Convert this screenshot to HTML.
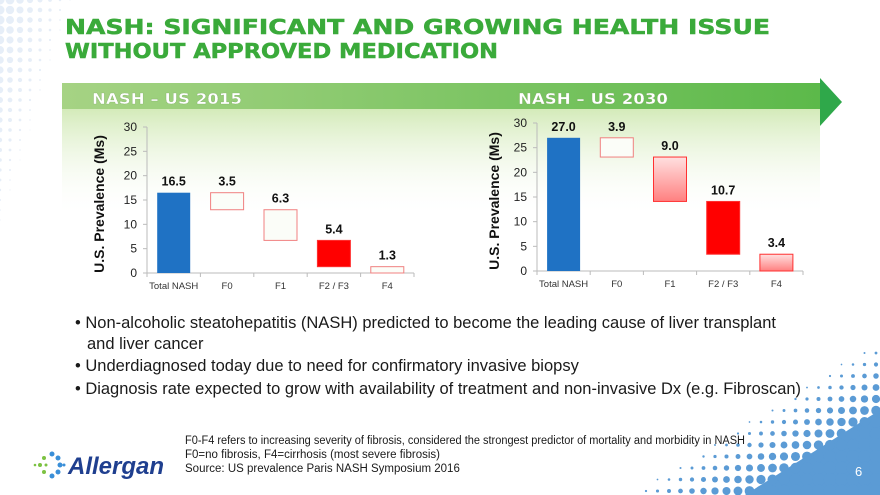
<!DOCTYPE html>
<html><head><meta charset="utf-8"><style>
html,body{margin:0;padding:0;background:#fff;}
svg{display:block;font-family:"Liberation Sans",Arial,sans-serif;}
</style></head><body>
<svg id="s" width="880" height="495" viewBox="0 0 880 495" xmlns="http://www.w3.org/2000/svg">
<defs>
<linearGradient id="band" x1="0" x2="1" y1="0" y2="0"><stop offset="0" stop-color="#a6d384"/><stop offset="1" stop-color="#5cb94a"/></linearGradient>
<linearGradient id="area" x1="0" x2="0" y1="0" y2="1"><stop offset="0" stop-color="#d3eab8"/><stop offset="1" stop-color="#ffffff" stop-opacity="0"/></linearGradient>
<linearGradient id="pink" x1="0" x2="0" y1="0" y2="1"><stop offset="0" stop-color="#ffe0e0"/><stop offset="1" stop-color="#ff8080"/></linearGradient>
</defs>
<g id="deco"></g>
<rect x="62" y="108" width="758" height="110" fill="url(#area)"/>
<rect x="62" y="83" width="758" height="26" fill="url(#band)"/>
<polygon points="820,78 842,102 820,126" fill="#2fa84a"/>
<text x="65" y="34" font-family="DejaVu Sans,sans-serif" font-weight="bold" font-size="20" fill="#3aaa3a" stroke="#3aaa3a" stroke-width="0.5" textLength="705" lengthAdjust="spacingAndGlyphs">NASH: SIGNIFICANT AND GROWING HEALTH ISSUE</text>
<text x="65" y="58" font-family="DejaVu Sans,sans-serif" font-weight="bold" font-size="20" fill="#3aaa3a" stroke="#3aaa3a" stroke-width="0.5" textLength="433" lengthAdjust="spacingAndGlyphs">WITHOUT APPROVED MEDICATION</text>
<text x="92" y="104" font-family="DejaVu Sans,sans-serif" font-weight="bold" font-size="15.5" fill="#fff" stroke="#7aa860" stroke-width="0.3" textLength="150" lengthAdjust="spacingAndGlyphs">NASH – US 2015</text>
<text x="518" y="104" font-family="DejaVu Sans,sans-serif" font-weight="bold" font-size="15.5" fill="#fff" stroke="#7aa860" stroke-width="0.3" textLength="150" lengthAdjust="spacingAndGlyphs">NASH – US 2030</text>
<g id="c1"></g>
<g id="c2"></g>
<g font-size="16.5" fill="#1a1a1a">
<text x="75" y="328">• Non-alcoholic steatohepatitis (NASH) predicted to become the leading cause of liver transplant</text>
<text x="87" y="349">and liver cancer</text>
<text x="75" y="371">• Underdiagnosed today due to need for confirmatory invasive biopsy</text>
<text x="75" y="394" textLength="726" lengthAdjust="spacingAndGlyphs">• Diagnosis rate expected to grow with availability of treatment and non-invasive Dx (e.g. Fibroscan)</text>
</g>
<g font-size="11.5" fill="#1a1a1a">
<text x="185" y="444" textLength="560" lengthAdjust="spacingAndGlyphs">F0-F4 refers to increasing severity of fibrosis, considered the strongest predictor of mortality and morbidity in NASH</text>
<text x="185" y="458">F0=no fibrosis, F4=cirrhosis (most severe fibrosis)</text>
<text x="185" y="472">Source: US prevalence Paris NASH Symposium 2016</text>
</g>
<g>
<g fill="#3a8fd8"><circle cx="52" cy="454" r="2.5"/><circle cx="58" cy="458" r="2.5"/><circle cx="60" cy="465" r="2.5"/><circle cx="58" cy="472" r="2.5"/><circle cx="52" cy="476" r="2.5"/><circle cx="64" cy="465" r="1.5"/></g>
<g fill="#7cc242"><circle cx="44" cy="458" r="2"/><circle cx="44" cy="472" r="2"/><circle cx="40" cy="465" r="2"/><circle cx="35" cy="465" r="1.3"/><circle cx="46" cy="465" r="1.5"/></g>
<text x="68" y="474" font-size="24" font-weight="bold" font-style="italic" fill="#1f3f8f">Allergan</text>
</g>
<text x="855" y="476" font-size="13" fill="#fff">6</text>
</svg>
<script>
var NS='http://www.w3.org/2000/svg';
// decoration (not data)
(function(){
 var g=document.getElementById('deco');
 var poly=document.createElementNS(NS,'polygon');
 poly.setAttribute('points','745,495 880,410 880,495');poly.setAttribute('fill','#5b9bd5');
 
 
 g.appendChild(poly);
 for(var x=600;x<=885;x+=11.5){for(var y=330;y<=500;y+=11.5){
  var t=( (x-630)/250 + (y-340)/155 ) - 1; if(t<0) continue;
  var r=Math.min(6.5,0.8+t*9); var c=document.createElementNS(NS,'circle');
  c.setAttribute('cx',x);c.setAttribute('cy',y);c.setAttribute('r',r);c.setAttribute('fill','#5b9bd5');
  
  
  g.appendChild(c);}}
 for(var x=0;x<=80;x+=10){for(var y=0;y<=250;y+=10){
  var t=1-(x/80+y/250); if(t<0.1) continue;
  var c=document.createElementNS(NS,'circle');
  c.setAttribute('cx',x);c.setAttribute('cy',y);c.setAttribute('r',Math.min(4.5,t*5));c.setAttribute('fill','#e6eef8');
  
  
  g.appendChild(c);}}
})();

var categories=['Total NASH','F0','F1','F2 / F3','F4'];
var values2015=[16.5,3.5,6.3,5.4,1.3];
var values2030=[27.0,3.9,9.0,10.7,3.4];
var labels2015=['16.5','3.5','6.3','5.4','1.3'];
var labels2030=['27.0','3.9','9.0','10.7','3.4'];
var yTicks=[0,5,10,15,20,25,30];
var styles2015=['total','outline','outline','solid','outline'];
var styles2030=['total','outline','grad','solid','grad'];

function drawChart(id,vals,labs,sty,ax){
 var g=document.getElementById(id);
 function el(tag,attrs,txt){var e=document.createElementNS(NS,tag);for(var k in attrs)e.setAttribute(k,attrs[k]);if(txt!=null)e.textContent=txt;g.appendChild(e);return e;}
 function yS(v){return ax.y0-(v/30)*(ax.y0-ax.y30);}
 var cw=(ax.x1-ax.x0)/categories.length, bw=33;
 var a=el('line',{x1:ax.x0,y1:ax.y30,x2:ax.x0,y2:ax.y0,stroke:'#bbb'});
 
 var b=el('line',{x1:ax.x0,y1:ax.y0,x2:ax.x1,y2:ax.y0,stroke:'#bbb'});
 
 yTicks.forEach(function(t){
  var tk=el('line',{x1:ax.x0-4,x2:ax.x0,y1:yS(t),y2:yS(t),stroke:'#bbb'});
  
  var tl=el('text',{x:ax.x0-10,y:yS(t)+4,'text-anchor':'end','font-size':12,fill:'#222'},String(t));
  
 });
 for(var i=0;i<=categories.length;i++){var xt=el('line',{x1:ax.x0+i*cw,x2:ax.x0+i*cw,y1:ax.y0,y2:ax.y0+4,stroke:'#bbb'});
  }
 var yt=el('text',{transform:'translate('+ax.tx+','+((ax.y0+ax.y30)/2+4)+') rotate(-90)','text-anchor':'middle','font-size':14,'font-weight':'bold',fill:'#111'},'U.S. Prevalence (Ms)');
 
 var cum=vals[0];
 categories.forEach(function(c,i){
  var top,bot;
  if(i==0){top=vals[0];bot=0;}else{top=cum;bot=cum-vals[i];cum=bot;}
  var x=ax.x0+i*cw+(cw-bw)/2, s=sty[i];
  var fill=s=='total'?'#1f72c4':s=='solid'?'#ff0000':s=='grad'?'url(#pink)':'#fbfdf8';
  var r=el('rect',{x:x,y:yS(top),width:bw,height:Math.max(1,yS(bot)-yS(top)),fill:fill,stroke:s=='total'?'none':(s=='outline'?'#f08080':'#ff3030'),'stroke-width':1});
  
  
  var lb=el('text',{x:x+bw/2,y:yS(top)-7,'text-anchor':'middle','font-size':12.5,'font-weight':'bold',fill:'#111'},labs[i]);
  
  var cl=el('text',{x:ax.x0+i*cw+cw/2,y:ax.y0+16,'text-anchor':'middle','font-size':9.5,fill:'#333'},c);
  
 });
}
drawChart('c1',values2015,labels2015,styles2015,{x0:147,x1:414,y0:273,y30:127,tx:104});
drawChart('c2',values2030,labels2030,styles2030,{x0:537,x1:803,y0:271,y30:123,tx:499});
</script>
</body></html>
